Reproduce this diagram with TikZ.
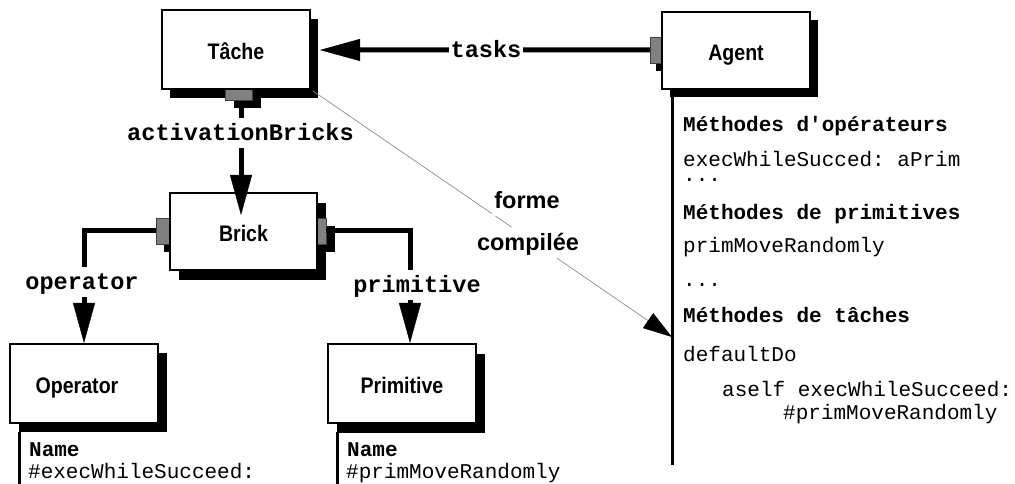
\documentclass[tikz,border=0pt]{standalone}
\usepackage{fontspec}
\setmainfont{Liberation Sans}
\setmonofont{Liberation Mono}
\newfontfamily\narrowsf{Liberation Sans}[FakeStretch=0.87]
\usetikzlibrary{arrows.meta,calc}
\pgfdeclarelayer{back}
\pgfdeclarelayer{mid}
\pgfsetlayers{back,mid,main}

\tikzset{
  classbox/.style={draw, fill=white, line width=1.8bp, inner sep=0pt, outer sep=0pt,
    anchor=north west, font=\narrowsf\bfseries\fontsize{22.5bp}{27bp}\selectfont,
    text height=20bp, text depth=0pt},
  portbox/.style={draw=black!75, line width=0.6bp, fill={rgb,255:red,128;green,128;blue,128},
    inner sep=0pt, outer sep=0pt, anchor=north west},
  portshadow/.style={fill=black},
  conn/.style={line width=5bp, -{Triangle[length=40bp,width=22bp,line width=0.4bp]}},
  lbl/.style={fill=white, inner xsep=1.5bp, inner ysep=0pt,
    font=\ttfamily\bfseries\fontsize{23.6bp}{28bp}\selectfont,
    text height=22.5bp, text depth=7.5bp},
  codetxt/.style={anchor=west, inner sep=0pt, font=\ttfamily\fontsize{21bp}{25bp}\selectfont,
    text height=13bp, text depth=0pt},
  codeb/.style={codetxt, font=\ttfamily\bfseries\fontsize{21bp}{25bp}\selectfont},
  lifeline/.style={line width=3bp},
  notelbl/.style={fill=white, inner xsep=2bp, inner ysep=0pt,
    font=\bfseries\fontsize{23.5bp}{28bp}\selectfont, text height=23bp, text depth=8bp},
  thinarrow/.style={draw={rgb,255:red,140;green,140;blue,140}, line width=0.7bp,
    -{Triangle[length=29bp,width=18bp,line width=0.3bp,color=black]}},
}

\begin{document}
\begin{tikzpicture}[x=1bp,y=-1bp]
\useasboundingbox (0,0) rectangle (1015,484);

% classes
\node[classbox, minimum width=148bp, minimum height=79bp] (tache) at (162,10) {Tâche};
\node[classbox, minimum width=148bp, minimum height=77bp] (agent) at (662,12) {Agent};
\node[classbox, minimum width=147bp, minimum height=77bp] (brick) at (170,193) {Brick};
\node[classbox, minimum width=148bp, minimum height=79bp] (operator) at (10,344) {\kern-14bp Operator};
\node[classbox, minimum width=148bp, minimum height=79bp] (primitive) at (328,344) {Primitive};

% drop shadows behind the classes
\begin{pgfonlayer}{back}
  \foreach \n/\dx/\dy in {tache/8/9, agent/8/8, brick/9/10, operator/9/9, primitive/9/10}
    \fill ([shift={(\dx,\dy)}]\n.north west) rectangle ([shift={(\dx,\dy)}]\n.south east);
\end{pgfonlayer}

% ports with their shadows
\begin{pgfonlayer}{mid}
  \fill[portshadow] (234,90) rectangle (261,108);
  \node[portbox, minimum width=27bp, minimum height=18bp] (tport) at (225,82) {};
  \fill[portshadow] (656,45) rectangle (674,71);
  \node[portbox, minimum width=18bp, minimum height=26bp] (aport) at (650,37) {};
  \fill[portshadow] (164,226) rectangle (186,252);
  \node[portbox, minimum width=22bp, minimum height=26bp] (blport) at (156,218) {};
  \fill[portshadow] (319,226) rectangle (335,252);
  \node[portbox, minimum width=16bp, minimum height=26bp] (brport) at (310,218) {};
\end{pgfonlayer}

% associations
\coordinate (tasktip) at (320,50);
\draw[conn] (aport.west) -- (tasktip);
\node[lbl] (taskslbl) at (486,50) {tasks};

\coordinate (abstart) at (241,108);
\coordinate (abtip) at (241,215);
\draw[conn] (abstart) -- (abtip);
\node[lbl] (ablbl) at (240.5,133) {activationBricks};

\coordinate (optip) at (84,343);
\draw[conn] (blport.west) -| (optip);
\node[lbl] (oplbl) at (82,282) {operator};

\coordinate (prtip) at (410,343);
\draw[conn] (brport.east) -| (prtip);
\node[lbl] (prlbl) at (417,285) {primitive};

% compiled form
\coordinate (fcstart) at (313,91);
\coordinate (fctip) at (672,337);
\draw[thinarrow] (fcstart) -- (fctip);
\node[notelbl] (forme) at (527,201) {forme};
\node[notelbl] (compilee) at (528,243) {compilée};

% class bodies
\coordinate (agtop) at (672,97);
\coordinate (agend) at (672,465);
\draw[lifeline] (agtop) -- (agend);
\coordinate (optop) at (19,432);
\coordinate (opend) at (19,484);
\draw[lifeline] (optop) -- (opend);
\coordinate (prtop) at (337,432);
\coordinate (prend) at (337,484);
\draw[lifeline] (prtop) -- (prend);

\node[codeb] (opname) at (29,450) {Name};
\node[codetxt] (opsel) at (28,472) {\#execWhileSucceed:};
\node[codeb] (prname) at (347,450) {Name};
\node[codetxt] (prsel) at (346,472) {\#primMoveRandomly};

\node[codeb] (m1) at (683,125) {Méthodes d'opérateurs};
\node[codetxt] (m1a) at (683,160) {execWhileSucced: aPrim};
\node[codetxt] (m1b) at (683,175.5) {...};
\node[codeb] (m2) at (683,213) {Méthodes de primitives};
\node[codetxt] (m2a) at (683,246.5) {primMoveRandomly};
\node[codetxt] (m2b) at (683,280) {...};
\node[codeb] (m3) at (683,316.5) {Méthodes de tâches};
\node[codetxt] (m3a) at (683,355) {defaultDo};
\node[codetxt] (m3b) at (722,390) {aself execWhileSucceed:};
\node[codetxt] (m3c) at (783,413) {\#primMoveRandomly};
\end{tikzpicture}
\end{document}
